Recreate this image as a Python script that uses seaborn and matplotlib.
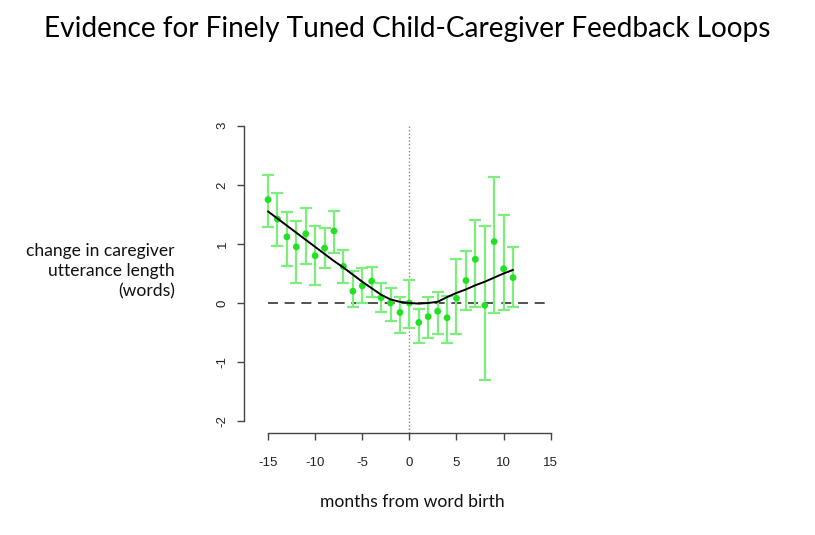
import matplotlib
matplotlib.use("Agg")
import matplotlib.pyplot as plt
import numpy as np
import pandas as pd
import seaborn as sns

# valores
months = [-15, -14, -13, -12, -11, -10, -9, -8, -7, -6, -5, -4, -3, -2, -1,
          0, 1, 2, 3, 4, 5, 6, 7, 8, 9, 10, 11]
mean_change = [1.75, 1.42, 1.12, 0.95, 1.17, 0.80, 0.93, 1.22, 0.62, 0.20, 0.29, 0.37, 0.09, 0.00, -0.16,
               0.00, -0.33, -0.23, -0.14, -0.25, 0.08, 0.38, 0.74, -0.04, 1.04, 0.58, 0.43]
err_low = [1.29, 0.97, 0.63, 0.34, 0.66, 0.31, 0.59, 0.85, 0.34, -0.07, 0.00, 0.10, -0.15, -0.31, -0.51,
           -0.42, -0.68, -0.59, -0.53, -0.68, -0.53, -0.12, -0.07, -1.31, -0.17, -0.12, -0.07]
err_high = [2.17, 1.87, 1.54, 1.39, 1.61, 1.30, 1.27, 1.56, 0.90, 0.55, 0.59, 0.61, 0.34, 0.25, 0.10,
            0.39, -0.10, 0.10, 0.19, 0.12, 0.75, 0.88, 1.41, 1.31, 2.13, 1.49, 0.94]
fit_values = [1.55, 1.43, 1.31, 1.19, 1.07, 0.95, 0.83, 0.71, 0.60, 0.48, 0.36, 0.25, 0.14, 0.06, 0.02,
              0.00, -0.01, 0.00, 0.02, 0.10, 0.17, 0.23, 0.30, 0.36, 0.43, 0.50, 0.56]

x_ticks = [-15, -10, -5, 0, 5, 10, 15]
y_ticks = [-2, -1, 0, 1, 2, 3]

df = pd.DataFrame({"month": months, "change": mean_change, "fit": fit_values,
                   "lo": err_low, "hi": err_high})

sns.set_theme(style="white")
plt.rcParams["font.family"] = ["Lato", "DejaVu Sans"]

fig = plt.figure(figsize=(8.15, 5.35), dpi=100)
ax = fig.add_axes([0.2994, 0.1907, 0.3902, 0.5963])

green_bar = "#7cee7c"
green_dot = "#22e022"

# barras de error
yerr = np.array([df["change"] - df["lo"], df["hi"] - df["change"]])
ax.errorbar(df["month"], df["change"], yerr=yerr, fmt="none", ecolor=green_bar,
            elinewidth=1.6, capsize=4, capthick=1.6, zorder=2)
sns.scatterplot(data=df, x="month", y="change", color=green_dot, s=24,
                edgecolor="none", ax=ax, zorder=3)

# líneas de referencia
ax.plot([x_ticks[0], x_ticks[-1]], [0, 0], color="#333333", lw=1.2, ls=(0, (6, 4)), zorder=1)
ax.plot([0, 0], [-2.2, 3], color="#888888", lw=1, ls=(0, (1, 1.5)), zorder=1)

# ajuste
sns.lineplot(data=df, x="month", y="fit", color="black", lw=1.4, ax=ax, zorder=4)

ax.set_xlim(-17.55, 16.2)
ax.set_ylim(-2.2, 3.2)
ax.set_xticks(x_ticks)
ax.set_yticks(y_ticks)
ax.set_xticklabels([str(t) for t in x_ticks], family=["Liberation Sans"], fontsize=9.5, color="#222222")
ax.set_yticklabels([str(t) for t in y_ticks], family=["Liberation Sans"], fontsize=9.5,
                   color="#222222", rotation=90, va="center")
for side in ["top", "right"]:
    ax.spines[side].set_visible(False)
ax.spines["left"].set_bounds(-2, 3)
ax.spines["bottom"].set_bounds(-15, 15)
for side in ["left", "bottom"]:
    ax.spines[side].set_color("#444444")
    ax.spines[side].set_linewidth(1)
ax.tick_params(axis="both", direction="out", length=5, width=1, color="#444444",
               left=True, bottom=True)
ax.tick_params(axis="x", pad=12)
ax.tick_params(axis="y", pad=6)
ax.set_xlabel("")
ax.set_ylabel("")
ax.grid(False)

fig.text(0.5, 0.945, "Evidence for Finely Tuned Child-Caregiver Feedback Loops",
         ha="center", va="center", fontsize=20.2, color="black")
fig.text(175 / 815, 1 - 271 / 535, "change in caregiver\nutterance length\n(words)",
         ha="right", va="center", fontsize=12.6, linespacing=1.3, color="#111111")
fig.text(412 / 815, 1 - 502 / 535, "months from word birth",
         ha="center", va="center", fontsize=12.6, color="#111111")

fig.savefig("out.png", dpi=100)
